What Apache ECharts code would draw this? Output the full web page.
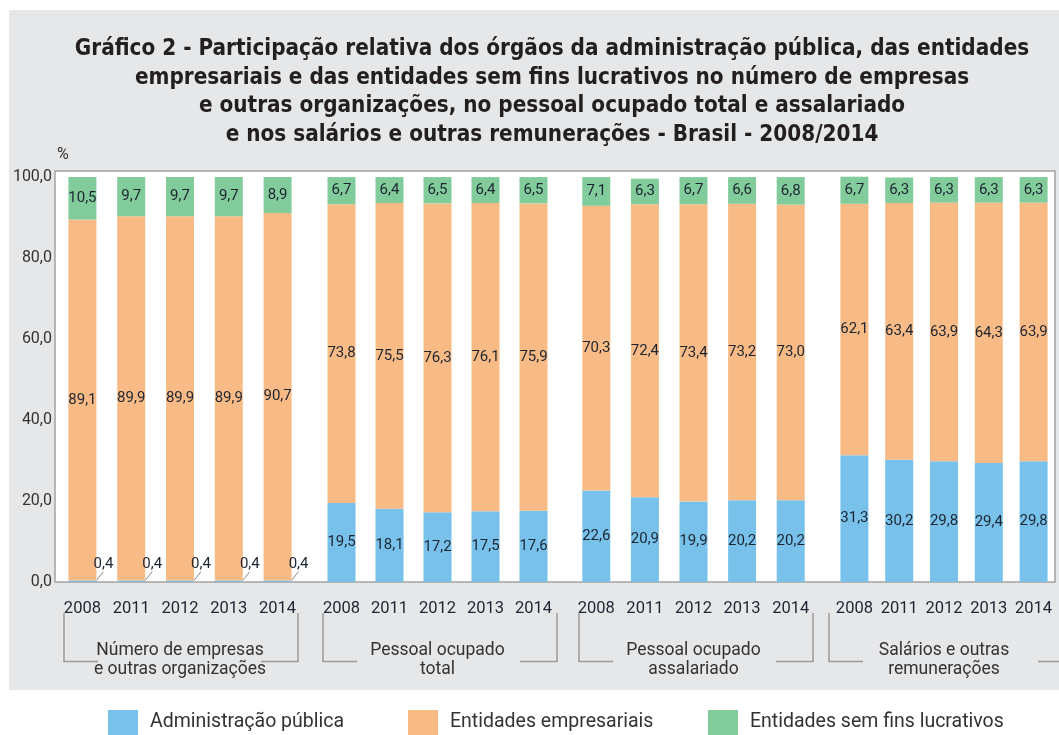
<!DOCTYPE html>
<html>
<head>
<meta charset="utf-8">
<script src="https://cdn.jsdelivr.net/npm/echarts@6/dist/echarts.min.js"></script>
<style>
  html, body { margin: 0; padding: 0; background: #fff; }
  #container { width: 1059px; height: 735px; }
</style>
</head>
<body>
<div id="container"></div>
<script>
var dom = document.getElementById('container');
var myChart = echarts.init(dom);

// dados
var anos = ['2008', '2011', '2012', '2013', '2014'];
var grupos = [
    'Número de empresas\ne outras organizações',
    'Pessoal ocupado\ntotal',
    'Pessoal ocupado\nassalariado',
    'Salários e outras\nremunerações'
];
var nomes = ['Administração pública', 'Entidades empresariais', 'Entidades sem fins lucrativos'];
var adminPublica = [
    [0.4, 0.4, 0.4, 0.4, 0.4],
    [19.5, 18.1, 17.2, 17.5, 17.6],
    [22.6, 20.9, 19.9, 20.2, 20.2],
    [31.3, 30.2, 29.8, 29.4, 29.8]
];
var entidadesEmpresariais = [
    [89.1, 89.9, 89.9, 89.9, 90.7],
    [73.8, 75.5, 76.3, 76.1, 75.9],
    [70.3, 72.4, 73.4, 73.2, 73.0],
    [62.1, 63.4, 63.9, 64.3, 63.9]
];
var semFinsLucrativos = [
    [10.5, 9.7, 9.7, 9.7, 8.9],
    [6.7, 6.4, 6.5, 6.4, 6.5],
    [7.1, 6.3, 6.7, 6.6, 6.8],
    [6.7, 6.3, 6.3, 6.3, 6.3]
];
var yTicks = [0, 20, 40, 60, 80, 100];

var cores = ['#78c1ea', '#f9bb86', '#82cb9b'];
var corTexto = '#1d2532';
var fonte = 'Roboto, "Noto Sans", sans-serif';

// layout of the four groups
var gridLeft = [58, 317.5, 572, 832];
var gridWidth = [244, 240, 243, 224];
var bracketL = [64, 323, 579, 829];
var bracketR = [298, 557, 813, 1075];

var fmt = function (v) {
    return Number(v).toFixed(1).replace('.', ',');
};

var grids = [{
    left: 55, top: 171, right: 4, bottom: 153,
    show: true, backgroundColor: '#fff',
    borderColor: '#a3a3a3', borderWidth: 1.5
}];
var xAxes = [{ gridIndex: 0, type: 'value', show: false, min: 0, max: 1 }];
var yAxes = [{
    gridIndex: 0, type: 'value', min: 0, max: 101.5, interval: 20,
    name: '%', nameLocation: 'end', nameGap: 8,
    nameTextStyle: { color: '#333', fontSize: 16, fontFamily: fonte, align: 'left', padding: [0, 0, 0, 2] },
    axisLine: { show: false }, axisTick: { show: false }, splitLine: { show: false },
    axisLabel: {
        color: '#333', fontSize: 16, fontFamily: fonte, margin: 3, showMaxLabel: false,
        formatter: function (v) { return yTicks.indexOf(v) >= 0 ? fmt(v) : ''; }
    }
}];
var series = [];
var graphics = [{
    type: 'rect', z: -10,
    shape: { x: 9, y: 10, width: 1060, height: 680 },
    style: { fill: '#e6e7e9' }
}];

var valores = [adminPublica, entidadesEmpresariais, semFinsLucrativos];

for (var g = 0; g < grupos.length; g++) {
    grids.push({ left: gridLeft[g], width: gridWidth[g], top: 171, bottom: 153 });
    xAxes.push({
        gridIndex: g + 1, type: 'category', data: anos,
        axisLine: { show: false }, axisTick: { show: false },
        axisLabel: { color: corTexto, fontSize: 16.5, fontFamily: fonte, margin: 18, interval: 0 },
        name: grupos[g], nameLocation: 'middle', nameGap: 59,
        nameTextStyle: { color: '#333', fontSize: 17.5, fontFamily: fonte, lineHeight: 19 }
    });
    yAxes.push({ gridIndex: g + 1, type: 'value', min: 0, max: 101.5, show: false });

    for (var s = 0; s < 3; s++) {
        var item = {
            name: nomes[s],
            type: 'bar',
            xAxisIndex: g + 1,
            yAxisIndex: g + 1,
            stack: 'grupo' + g,
            barWidth: 28,
            data: valores[s][g],
            itemStyle: { color: cores[s] },
            label: {
                show: true, position: 'inside',
                color: corTexto, fontSize: 15, fontFamily: fonte,
                formatter: function (p) { return fmt(p.value); }
            }
        };
        if (g === 0 && s === 0) {
            item.labelLayout = { dx: 21, dy: -17 };
            item.labelLine = { show: true, lineStyle: { color: '#8a8a8a', width: 1 } };
        }
        series.push(item);
    }

    // brackets under the years
    graphics.push({
        type: 'polyline', z: 5,
        shape: { points: [[bracketL[g] + 34, 661.5], [bracketL[g], 661.5], [bracketL[g], 613]] },
        style: { stroke: '#9a9a9a', lineWidth: 1.5, fill: null }
    });
    graphics.push({
        type: 'polyline', z: 5,
        shape: { points: [[bracketR[g] - 37, 661.5], [bracketR[g], 661.5], [bracketR[g], 613]] },
        style: { stroke: '#9a9a9a', lineWidth: 1.5, fill: null }
    });
}

var legends = [];
var legendLeft = [108, 408, 708];
for (var k = 0; k < nomes.length; k++) {
    legends.push({
        data: [nomes[k]],
        left: legendLeft[k], top: 710, padding: 0,
        itemWidth: 30, itemHeight: 25,
        icon: 'rect', selectedMode: false,
        textStyle: { color: '#333', fontSize: 19.5, fontFamily: fonte, padding: [0, 0, 0, 7] }
    });
}

var option = {
    backgroundColor: '#fff',
    animation: false,
    title: {
        text: 'Gráfico 2 - Participação relativa dos órgãos da administração pública, das entidades\n' +
              'empresariais e das entidades sem fins lucrativos no número de empresas\n' +
              'e outras organizações, no pessoal ocupado total e assalariado\n' +
              'e nos salários e outras remunerações - Brasil - 2008/2014',
        left: 547, top: 30, textAlign: 'center',
        textStyle: {
            color: '#231f20', fontSize: 22.3, fontWeight: 'bold', lineHeight: 28.5,
            fontFamily: '"Liberation Sans Narrow", "DejaVu Sans Condensed", sans-serif'
        }
    },
    legend: legends,
    grid: grids,
    xAxis: xAxes,
    yAxis: yAxes,
    graphic: graphics,
    series: series
};

if (option && typeof option === 'object') {
    myChart.setOption(option, true);
}
</script>
</body>
</html>
